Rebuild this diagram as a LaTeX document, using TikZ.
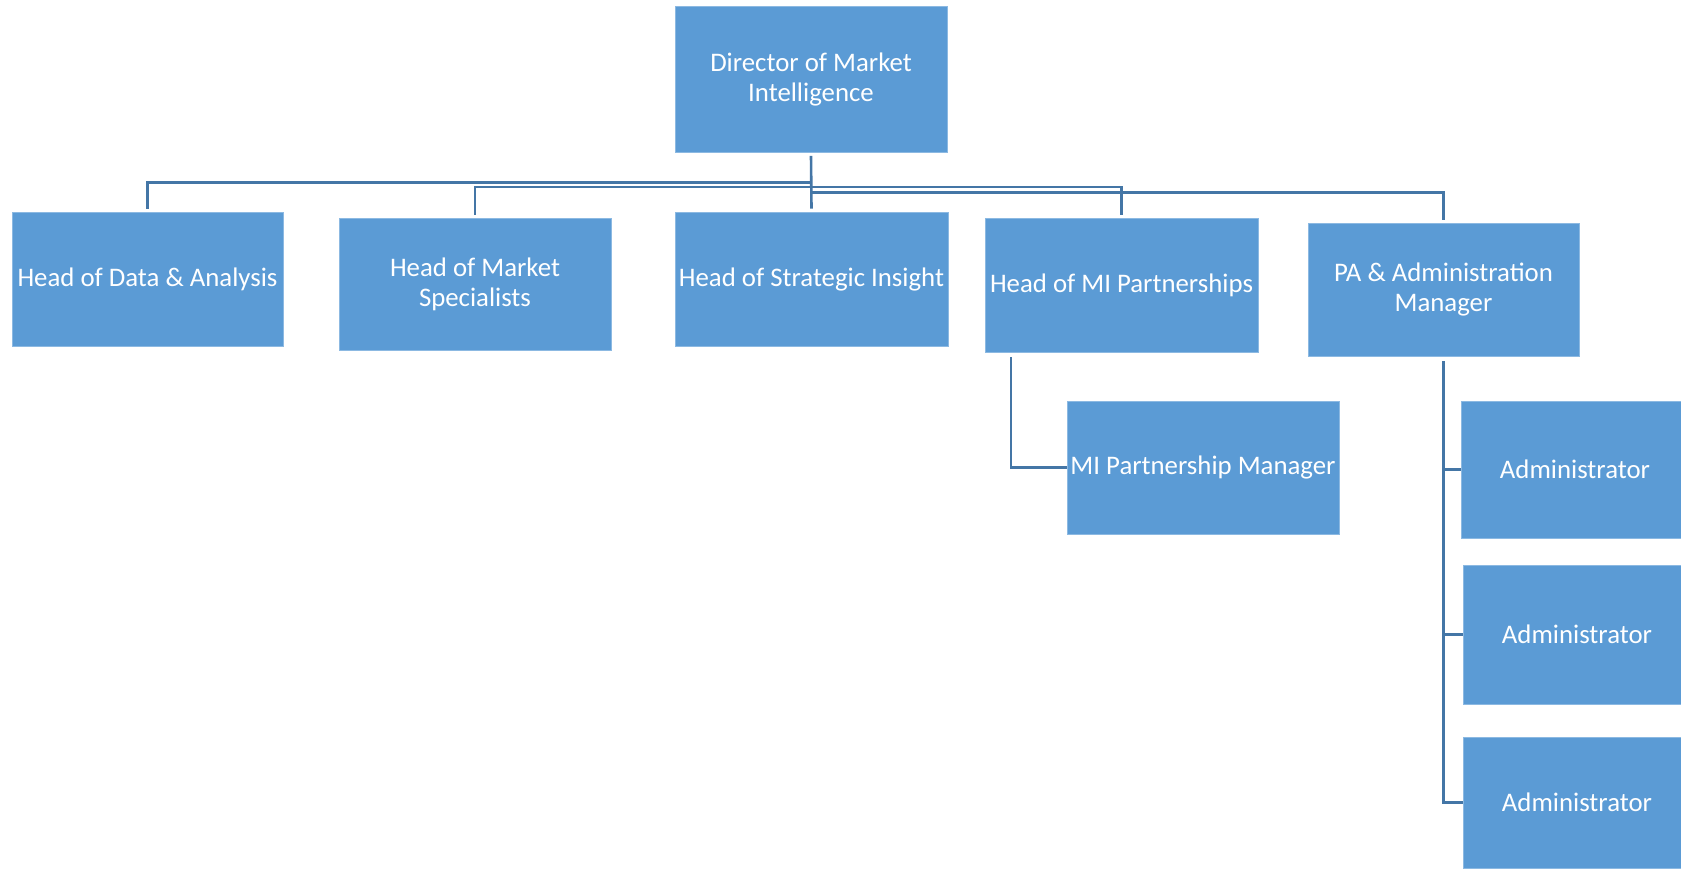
\documentclass[tikz,border=0pt]{standalone}
\usepackage{fontspec}
\setmainfont{Carlito}
\definecolor{boxblue}{RGB}{91,155,213}
\definecolor{linkblue}{RGB}{68,118,166}
\tikzset{
  orgbox/.style={fill=boxblue, draw=boxblue!70!white, line width=0.6pt, inner sep=0pt,
    text=white, align=center, font=\fontsize{26.8}{30}\selectfont},
  conn/.style={draw=linkblue, line width=2.6pt}
}
\begin{document}
\begin{tikzpicture}[x=1pt,y=-1pt]
\useasboundingbox (0,0) rectangle (1681,868);
\clip (0,0) rectangle (1681,868);
% boxes
\node[orgbox, minimum width=272pt, minimum height=146.7pt] (dir) at (811,79.3) {Director of Market\\Intelligence};
\node[orgbox, minimum width=271pt, minimum height=134pt] (data) at (147.5,279) {Head of Data \& Analysis};
\node[orgbox, minimum width=272pt, minimum height=132pt] (mkt) at (475,284) {Head of Market\\Specialists};
\node[orgbox, minimum width=273pt, minimum height=134pt] (strat) at (811.5,279) {Head of Strategic Insight};
\node[orgbox, minimum width=273pt, minimum height=134pt] (mip) at (1121.5,285) {Head of MI Partnerships};
\node[orgbox, minimum width=271pt, minimum height=133pt] (pa) at (1443.5,289.5) {\raisebox{-3pt}{\parbox{260pt}{\centering PA \& Administration\\Manager}}};
\node[orgbox, minimum width=272pt, minimum height=133pt] (mipm) at (1203,467.5) {MI Partnership Manager};
\node[orgbox, minimum width=228pt, minimum height=137pt] (ad1) at (1575,469.5) {Administrator};
\node[orgbox, minimum width=228pt, minimum height=139pt] (ad2) at (1577,634.5) {Administrator};
\node[orgbox, minimum width=228pt, minimum height=131pt] (ad3) at (1577,802.5) {Administrator};
% connectors from director
\draw[conn] ([yshift=-3pt]dir.south) -- ([yshift=3pt]strat.north);
\draw[conn] (dir.south |- 0,182.3) -| ([yshift=3pt]data.north);
\draw[conn] (dir.south |- 0,187) -| ([yshift=3pt]mkt.north);
\draw[conn] (dir.south |- 0,187) -| ([yshift=3pt]mip.north);
\draw[conn] (dir.south |- 0,192.3) -| ([yshift=3pt]pa.north);
% sub connectors
\draw[conn] ([xshift=-110.5pt,yshift=-5pt]mip.south) |- (mipm.west);
\draw[conn] ([yshift=-5pt]pa.south) |- (ad3.west);
\draw[conn] (pa.south |- ad1.west) -- (ad1.west);
\draw[conn] (pa.south |- ad2.west) -- (ad2.west);
\end{tikzpicture}
\end{document}
